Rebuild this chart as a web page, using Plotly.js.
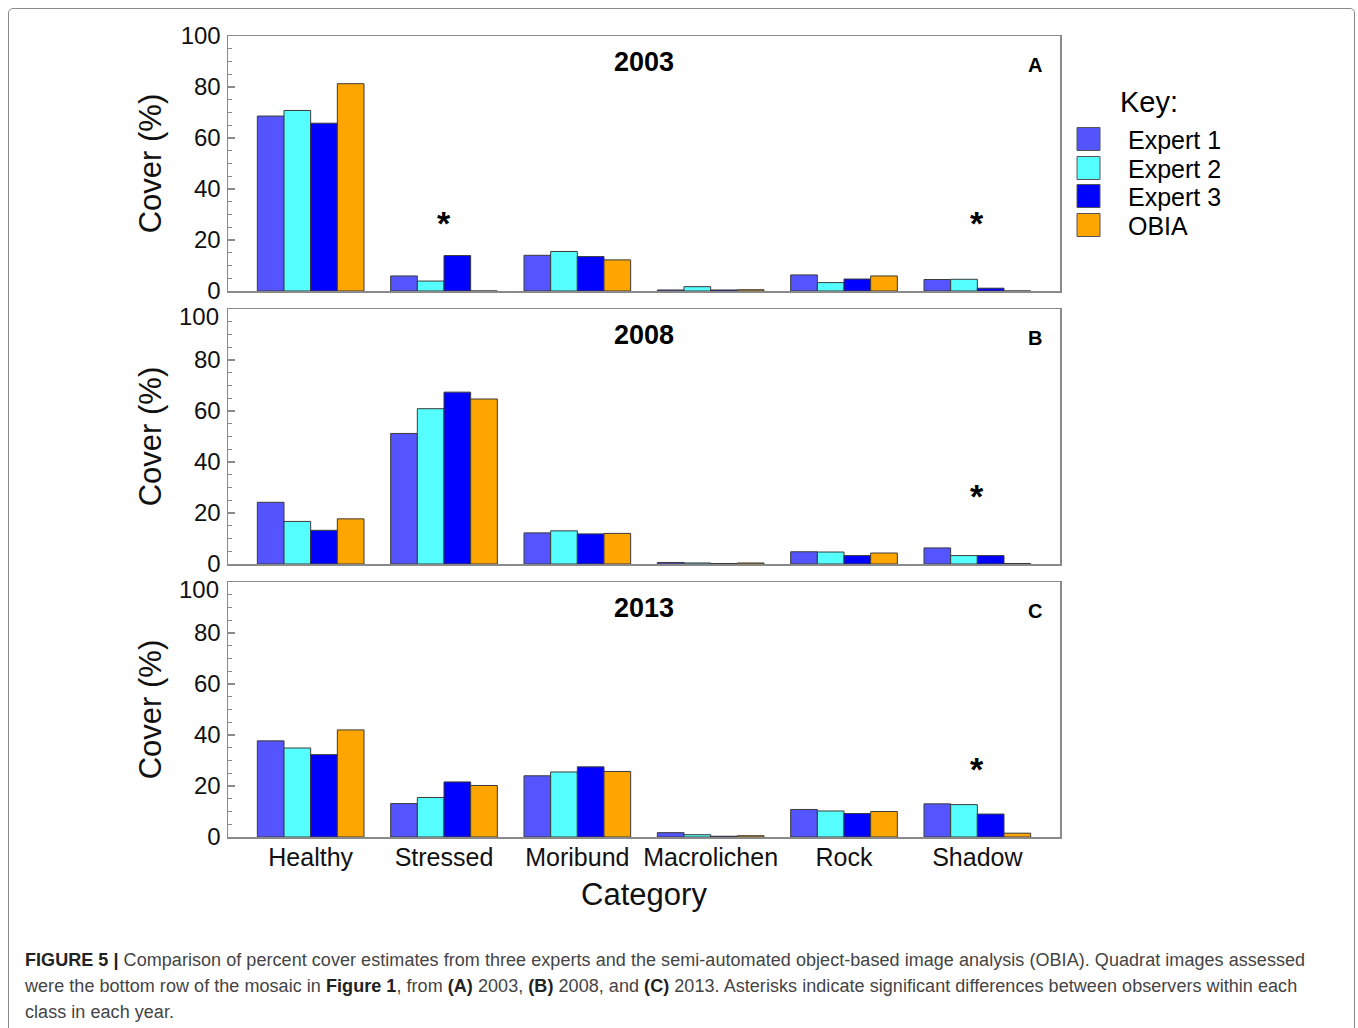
<!DOCTYPE html>
<html>
<head>
<meta charset="utf-8">
<script src="https://cdn.plot.ly/plotly-3.0.1.min.js"></script>
<style>
  html, body { margin: 0; padding: 0; background: #fff; }
  #wrap { position: relative; width: 1358px; height: 1028px; overflow: hidden; }
  #frame { position: absolute; left: 8px; top: 8px; width: 1347px; height: 1060px;
           border: 1px solid #8a8a8a; border-radius: 5px; box-sizing: border-box; }
  #chart { position: absolute; left: 0; top: 0; width: 1358px; height: 1028px; }
  #caption { position: absolute; left: 25px; top: 947px; width: 1310px;
             font-family: "Liberation Sans", Arial, sans-serif; font-size: 18px;
             line-height: 26px; color: #444; white-space: nowrap; letter-spacing: 0.05px; }
  #caption b { color: #222; }
</style>
</head>
<body>
<div id="wrap">
  <div id="chart"></div>
  <div id="frame"></div>
  <div id="caption">
    <b>FIGURE 5 |</b> Comparison of percent cover estimates from three experts and the semi-automated object-based image analysis (OBIA). Quadrat images assessed<br>
    were the bottom row of the mosaic in <b>Figure 1</b>, from <b>(A)</b> 2003, <b>(B)</b> 2008, and <b>(C)</b> 2013. Asterisks indicate significant differences between observers within each<br>
    class in each year.
  </div>
</div>
<script>
// Cover categories and observers
const categories = ['Healthy', 'Stressed', 'Moribund', 'Macrolichen', 'Rock', 'Shadow'];
const seriesNames = ['Expert 1', 'Expert 2', 'Expert 3', 'OBIA'];
const years = ['2003', '2008', '2013'];
const panelLetters = ['A', 'B', 'C'];
const yTicks = [0, 20, 40, 60, 80, 100];

// Percent cover, 2003
const expert1_2003 = [68.6, 5.9, 14.0, 0.4, 6.3, 4.5];
const expert2_2003 = [70.8, 3.9, 15.5, 1.7, 3.3, 4.6];
const expert3_2003 = [65.8, 13.9, 13.5, 0.4, 4.7, 1.1];
const obia_2003    = [81.3, 0.0, 12.2, 0.5, 5.9, 0.0];

// Percent cover, 2008
const expert1_2008 = [24.2, 51.2, 12.2, 0.6, 4.8, 6.3];
const expert2_2008 = [16.7, 60.9, 13.0, 0.4, 4.7, 3.3];
const expert3_2008 = [13.2, 67.4, 11.8, 0.2, 3.3, 3.3];
const obia_2008    = [17.7, 64.7, 12.0, 0.4, 4.3, 0.2];

// Percent cover, 2013
const expert1_2013 = [37.7, 13.1, 24.0, 1.7, 10.8, 13.0];
const expert2_2013 = [34.9, 15.5, 25.5, 0.9, 10.2, 12.7];
const expert3_2013 = [32.3, 21.6, 27.5, 0.3, 9.2, 9.0];
const obia_2013    = [42.0, 20.2, 25.7, 0.5, 10.0, 1.5];

// Significant differences between observers: [panel index, category]
const sigPanels     = [0, 0, 1, 2];
const sigCategories = ['Stressed', 'Shadow', 'Shadow', 'Shadow'];

const panelData = [
  [expert1_2003, expert2_2003, expert3_2003, obia_2003],
  [expert1_2008, expert2_2008, expert3_2008, obia_2008],
  [expert1_2013, expert2_2013, expert3_2013, obia_2013]
];

const seriesColors = ['#5555ff', '#55ffff', '#0000ff', '#ffa500'];
const FONT = '"Liberation Sans", Arial, Helvetica, sans-serif';
const W = 1358, H = 1028;
const px = x => x / W;
const py = y => 1 - y / H;

// Plot area in page pixels
const plotLeft = 228, plotRight = 1060;
const panelTops = [36, 309, 582];
const panelBottoms = [291, 564, 837];

const traces = [];
panelData.forEach((series, p) => {
  const sfx = p === 0 ? '' : String(p + 1);
  series.forEach((vals, s) => {
    traces.push({
      type: 'bar',
      name: seriesNames[s],
      x: categories,
      y: vals,
      xaxis: 'x' + sfx,
      yaxis: 'y' + sfx,
      marker: { color: seriesColors[s], line: { color: '#3a3a3a', width: 1 } },
      showlegend: false,
      hoverinfo: 'x+y+name'
    });
  });
});

const layout = {
  width: W, height: H,
  margin: { l: 0, r: 0, t: 0, b: 0 },
  paper_bgcolor: 'rgba(0,0,0,0)',
  plot_bgcolor: '#ffffff',
  barmode: 'group',
  bargap: 0.2,
  bargroupgap: 0,
  font: { family: FONT, color: '#000' },
  annotations: [],
  shapes: []
};

const tickFont = { size: 24, family: FONT, color: '#111' };

for (let p = 0; p < 3; p++) {
  const sfx = p === 0 ? '' : String(p + 1);
  const ya = 'y' + sfx, xa = 'x' + sfx;
  // lower panels: the top label sits just below the panel above, drawn separately
  const topShifted = p > 0;
  layout['xaxis' + sfx] = {
    domain: [px(plotLeft), px(plotRight)],
    anchor: ya,
    type: 'category',
    range: [-0.62, 5.62],
    showline: true, mirror: true, linecolor: '#8a8a8a', linewidth: 1.5,
    showgrid: false, zeroline: false, ticks: '',
    showticklabels: p === 2,
    ticklabelstandoff: -3,
    tickfont: { size: 25, family: FONT, color: '#111' },
    title: p === 2 ? { text: 'Category', font: { size: 31, family: FONT, color: '#111' }, standoff: 14 } : { text: '' }
  };
  layout['yaxis' + sfx] = {
    domain: [py(panelBottoms[p]), py(panelTops[p])],
    anchor: xa,
    range: [0, 100],
    tickvals: yTicks,
    ticktext: yTicks.map(v => (topShifted && v === 100) ? '' : String(v)),
    ticks: 'inside', ticklen: 7, tickwidth: 1.2, tickcolor: '#8a8a8a',
    minor: { dtick: 5, ticks: 'inside', ticklen: 4, tickwidth: 1, tickcolor: '#8a8a8a', showgrid: false },
    showline: true, mirror: true, linecolor: '#8a8a8a', linewidth: 1.5,
    showgrid: false, zeroline: false,
    tickfont: tickFont,
    ticklabelstandoff: 1,
    title: { text: 'Cover (%)', font: { size: 31, family: FONT, color: '#111' }, standoff: topShifted ? 23 : 10 }
  };
  if (topShifted) {
    layout.annotations.push({
      xref: 'paper', yref: ya,
      x: px(221), y: 100, yshift: -7,
      text: String(yTicks[yTicks.length - 1]), showarrow: false,
      font: tickFont, xanchor: 'right', yanchor: 'middle'
    });
  }

  // Year heading and panel letter
  const dy = panelTops[p] - panelTops[0];
  layout.annotations.push({
    xref: 'paper', yref: 'paper',
    x: px((plotLeft + plotRight) / 2), y: py(62 + dy),
    text: '<b>' + years[p] + '</b>', showarrow: false,
    font: { size: 27, family: FONT, color: '#000' },
    xanchor: 'center', yanchor: 'middle'
  });
  layout.annotations.push({
    xref: 'paper', yref: 'paper',
    x: px(1035), y: py(65 + dy),
    text: '<b>' + panelLetters[p] + '</b>', showarrow: false,
    font: { size: 20, family: FONT, color: '#000' },
    xanchor: 'center', yanchor: 'middle'
  });
}

// Significance asterisks
sigPanels.forEach((p, i) => {
  const sfx = p === 0 ? '' : String(p + 1);
  layout.annotations.push({
    xref: 'x' + sfx, yref: 'y' + sfx,
    x: sigCategories[i], y: 26.5,
    text: '<b>*</b>', showarrow: false,
    font: { size: 34, family: FONT, color: '#000' },
    xanchor: 'center', yanchor: 'middle'
  });
});

// Key
layout.annotations.push({
  xref: 'paper', yref: 'paper', x: px(1118), y: py(102),
  text: 'Key:', showarrow: false, xanchor: 'left', yanchor: 'middle',
  font: { size: 29, family: FONT, color: '#000' }
});
const keyRowY = [139, 168, 196, 225];
seriesNames.forEach((name, s) => {
  const cy = keyRowY[s];
  layout.shapes.push({
    type: 'rect', xref: 'paper', yref: 'paper',
    x0: px(1077), x1: px(1100), y0: py(cy + 11.5), y1: py(cy - 11.5),
    fillcolor: seriesColors[s], line: { color: '#555', width: 1 }
  });
  layout.annotations.push({
    xref: 'paper', yref: 'paper', x: px(1126), y: py(cy + 1),
    text: name, showarrow: false, xanchor: 'left', yanchor: 'middle',
    font: { size: 25, family: FONT, color: '#000' }
  });
});

Plotly.newPlot('chart', traces, layout, { staticPlot: true, displayModeBar: false });
</script>
</body>
</html>
